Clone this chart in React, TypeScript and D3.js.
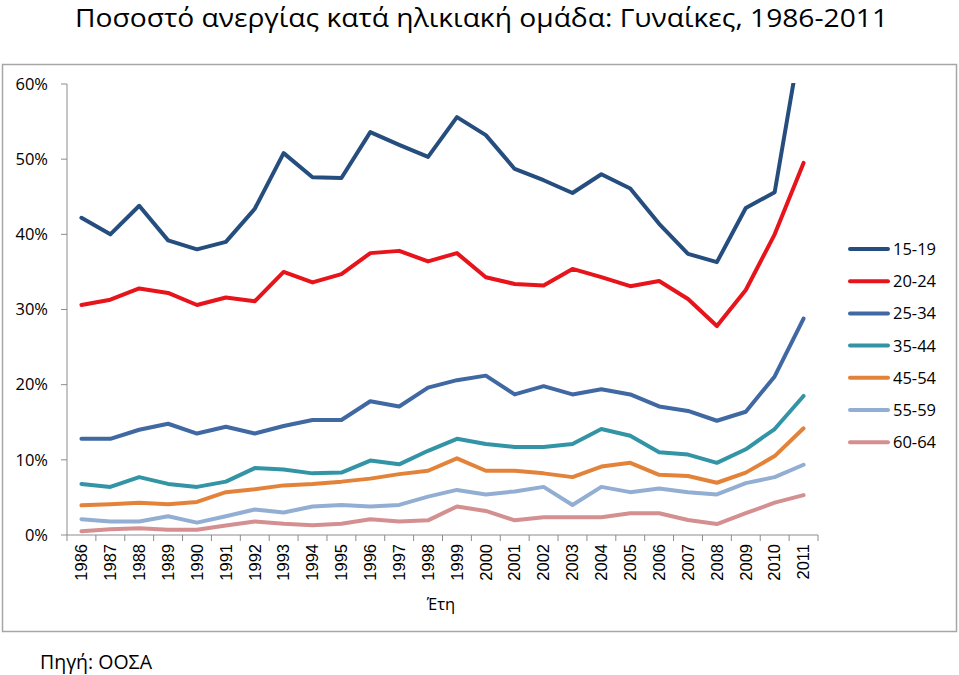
import React from "react";
import * as d3 from "d3";

const years = ["1986","1987","1988","1989","1990","1991","1992","1993","1994","1995","1996","1997","1998","1999","2000","2001","2002","2003","2004","2005","2006","2007","2008","2009","2010","2011"];

const s1519 = [42.2,40.0,43.8,39.2,38.0,39.0,43.4,50.8,47.6,47.5,53.6,51.9,50.3,55.6,53.2,48.7,47.2,45.5,48.0,46.1,41.4,37.4,36.3,43.5,45.6,68.0];
const s2024 = [30.6,31.3,32.8,32.2,30.6,31.6,31.1,35.0,33.6,34.7,37.5,37.8,36.4,37.5,34.3,33.4,33.2,35.4,34.3,33.1,33.8,31.4,27.8,32.6,40.0,49.5];
const s2534 = [12.8,12.8,14.0,14.8,13.5,14.4,13.5,14.5,15.3,15.3,17.8,17.1,19.6,20.6,21.2,18.7,19.8,18.7,19.4,18.7,17.1,16.5,15.2,16.4,21.1,28.8];
const s3544 = [6.8,6.4,7.7,6.8,6.4,7.1,8.9,8.7,8.2,8.3,9.9,9.4,11.2,12.8,12.1,11.7,11.7,12.1,14.1,13.2,11.0,10.7,9.6,11.4,14.1,18.5];
const s4554 = [3.95,4.1,4.3,4.1,4.4,5.7,6.1,6.6,6.8,7.1,7.5,8.1,8.55,10.2,8.55,8.55,8.2,7.7,9.1,9.6,8.0,7.85,6.95,8.3,10.5,14.2];
const s5559 = [2.1,1.8,1.8,2.5,1.65,2.5,3.4,3.0,3.8,4.0,3.8,4.0,5.1,6.0,5.4,5.8,6.4,4.0,6.4,5.7,6.2,5.7,5.4,6.9,7.7,9.35];
const s6064 = [0.5,0.75,0.9,0.7,0.7,1.25,1.8,1.5,1.3,1.5,2.1,1.8,1.95,3.8,3.2,1.95,2.35,2.35,2.35,2.9,2.9,2.0,1.45,2.9,4.3,5.3];

const seriesNames = ["15-19","20-24","25-34","35-44","45-54","55-59","60-64"];
const seriesValues = [s1519, s2024, s2534, s3544, s4554, s5559, s6064];
const seriesColors = ["#254E7E","#E8141B","#4068A2","#3394A6","#E3833A","#93AED3","#D48F90"];

const yTicks = [0, 10, 20, 30, 40, 50, 60];

const title = "Ποσοστό ανεργίας κατά ηλικιακή ομάδα: Γυναίκες, 1986-2011";
const xTitle = "Έτη";
const source = "Πηγή: ΟΟΣΑ";

export default function App() {
  const W = 959, H = 675;
  const left = 67, right = 818, top = 84, bottom = 535;
  const x = d3.scaleBand<string>().domain(years).range([left, right]);
  const y = d3.scaleLinear().domain([0, 60]).range([bottom, top]);
  const line = d3.line<number>()
    .x((_, i) => (x(years[i]) as number) + x.bandwidth() / 2)
    .y((d) => y(d));
  const font = "'Open Sans', 'Liberation Sans', sans-serif";
  return (
    <svg width={W} height={H} style={{ position: "absolute", left: 0, top: 0, background: "#fff" }}>
      <defs>
        <clipPath id="plotclip">
          <rect x={left} y={top - 1} width={W - left} height={bottom - top + 10} />
        </clipPath>
      </defs>
      <text x={75} y={27} textLength={813} lengthAdjust="spacingAndGlyphs" fontFamily={font} fontSize={25.5} fill="#000">{title}</text>
      <rect x={2.5} y={64.5} width={954} height={567} fill="none" stroke="#A6A6A6" strokeWidth={1.5} />
      {/* y axis */}
      <line x1={left} x2={left} y1={top} y2={bottom} stroke="#8C8C8C" strokeWidth={1} />
      {yTicks.map((t) => (
        <g key={t}>
          <line x1={left - 6} x2={left} y1={y(t)} y2={y(t)} stroke="#8C8C8C" />
          <text x={48} y={y(t)} dy="0.35em" textAnchor="end" fontFamily={font} fontSize={16.5} fill="#000">{t + "%"}</text>
        </g>
      ))}
      {/* x axis */}
      <line x1={left} x2={right} y1={bottom} y2={bottom} stroke="#8C8C8C" />
      {years.map((yr) => (
        <line key={"t" + yr} x1={(x(yr) as number)} x2={(x(yr) as number)} y1={bottom} y2={bottom + 6} stroke="#8C8C8C" />
      ))}
      <line x1={right} x2={right} y1={bottom} y2={bottom + 6} stroke="#8C8C8C" />
      {years.map((yr) => {
        const cx = (x(yr) as number) + x.bandwidth() / 2;
        return (
          <text key={yr} transform={`translate(${cx},${bottom + 9}) rotate(-90)`} textAnchor="end" dy="0.35em" fontFamily="'Liberation Sans', Arial, sans-serif" fontSize={16.5} fill="#000">{yr}</text>
        );
      })}
      <text x={441} y={610} textAnchor="middle" fontFamily={font} fontSize={16.5} fill="#000">{xTitle}</text>
      {/* lines */}
      <g clipPath="url(#plotclip)">
        {seriesValues.slice().reverse().map((vals, ri) => {
          const i = seriesValues.length - 1 - ri;
          return (
            <path key={seriesNames[i]} d={line(vals) as string} fill="none" stroke={seriesColors[i]} strokeWidth={4} strokeLinejoin="round" strokeLinecap="round" />
          );
        })}
      </g>
      {/* legend */}
      {seriesNames.map((n, i) => {
        const ly = 249 + i * 32.2;
        return (
          <g key={n}>
            <line x1={850} x2={888} y1={ly} y2={ly} stroke={seriesColors[i]} strokeWidth={4} strokeLinecap="round" />
            <text x={893} y={ly} dy="0.36em" fontFamily={font} fontSize={16.5} fill="#000">{n}</text>
          </g>
        );
      })}
      <text x={40} y={669} fontFamily={font} fontSize={19.5} fill="#000">{source}</text>
    </svg>
  );
}
